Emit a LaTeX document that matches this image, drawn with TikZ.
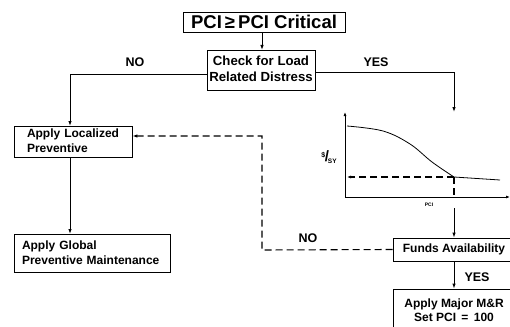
\documentclass[tikz,border=0pt]{standalone}
\usepackage{fontspec}
\setmainfont{Liberation Sans}
\usetikzlibrary{arrows.meta}
\begin{document}
\begin{tikzpicture}[x=1pt,y=-1pt,
  box/.style={draw, line width=0.8pt, inner sep=0pt, font=\bfseries\fontsize{12}{15}\selectfont},
  arr/.style={line width=0.9pt, -{Latex[length=5pt,width=3.5pt]}},
  dsh/.style={line width=1.1pt, dash pattern=on 7pt off 4pt},
  lbl/.style={font=\bfseries\fontsize{12.5}{15}\selectfont, inner sep=0pt}]
\useasboundingbox (0,0) rectangle (510,326);
\clip (0,0) rectangle (510,326);
% boxes
\node[box, minimum width=162pt, minimum height=20pt, font=\bfseries\fontsize{18.5}{20}\selectfont] (top) at (264,22) {PCI\,≥\,PCI Critical};
\node[box, minimum width=108pt, minimum height=40pt, font=\bfseries\fontsize{13.2}{18}\selectfont] (check) at (261,70) {\raisebox{-2pt}{\begin{tabular}{@{}c@{}}Check for Load\\[-2pt]Related Distress\end{tabular}}};
\node[box, minimum width=118pt, minimum height=31pt, text width=92pt, inner xsep=13pt] (loc) at (73,141.5) {\raisebox{4pt}{\begin{tabular}{@{}l@{}}Apply Localized\\Preventive\end{tabular}}};
\node[box, minimum width=156pt, minimum height=38pt, align=left, text width=140pt, inner xsep=8pt] (glob) at (92,253) {Apply Global\\Preventive Maintenance};
\node[box, minimum width=122pt, minimum height=23pt] (funds) at (454,249.5) {Funds Availability};
\node[box, minimum width=122pt, minimum height=42pt, align=center] (major) at (454,310) {Apply Major M\&R\\[-1pt]Set PCI \,=\, 100};
% graph
\coordinate (O) at (345,197);
\coordinate (ytop) at (345,112);
\coordinate (xend) at (510,197);
\coordinate (knee) at (454,177);
\coordinate (gin) at (454,112);
\coordinate (gout) at (454,208);
\draw[line width=0.9pt, -{Latex[length=4pt,width=3pt]}] (O) -- (ytop);
\draw[line width=0.9pt, -{Latex[length=4pt,width=3pt]}] (O) -- (xend);
\draw[line width=0.8pt] plot[smooth, tension=0.6] coordinates {(347,126) (383,131) (410,144) (432,162) (454,177)} -- (500,180);
\draw[dsh, -{Latex[length=4pt,width=3pt]}] (knee) -- (347,177);
\draw[dsh] (knee) -- (knee |- O);
\node[inner sep=0pt, font=\bfseries] (ylab) at (329,157) {\raisebox{4pt}{\fontsize{7}{7}\selectfont\$}\kern-0.5pt{\fontsize{15}{15}\selectfont/}\kern-1pt\raisebox{-2pt}{\fontsize{6.5}{7}\selectfont SY}};
\node[inner sep=0pt, font=\bfseries\fontsize{5}{6}\selectfont] (xlab) at (429,205) {PCI};
% connectors
\draw[arr] (top.south -| 262,0) -- (262,50);
\draw[arr] ([yshift=-4pt]check.west) -| (70,126);
\draw[arr] ([yshift=-2pt]check.east) -| (gin);
\draw[arr] (70,157) -- (70,234);
\draw[arr] (gout) -- (funds.north);
\draw[arr] (funds.south) -- (major.north);
\coordinate (c1) at (262,250);
\coordinate (c2) at (262,136);
\draw[dsh, -{Latex[length=5pt,width=3.5pt]}] (funds.west) -- (c1) -- (c2) -- (loc.east |- c2);
% labels
\node[lbl] (no1) at (135,62) {NO};
\node[lbl] (yes1) at (376,62) {YES};
\node[lbl] (no2) at (308,238) {NO};
\node[lbl] (yes2) at (477,277) {YES};
\end{tikzpicture}
\end{document}
